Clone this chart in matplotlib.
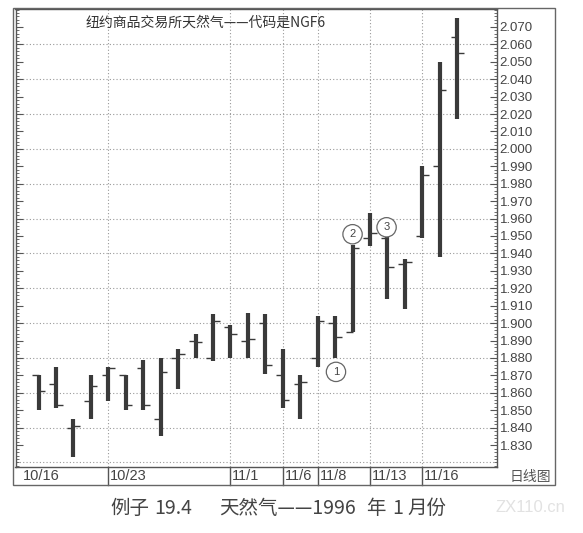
import numpy as np
import matplotlib
matplotlib.use("Agg")
import matplotlib.pyplot as plt
import matplotlib.transforms as mtransforms
from matplotlib.patches import Rectangle
from matplotlib.ticker import MultipleLocator, FixedLocator, FormatStrFormatter

plt.rcParams['font.family'] = ['Noto Sans CJK SC', 'DejaVu Sans']

# daily bars, one per trading day (index 0..24)
opens = [1.870, 1.865, 1.840, 1.855, 1.870, 1.870, 1.874, 1.845, 1.880, 1.890,
         1.880, 1.898, 1.890, 1.900, 1.870, 1.865, 1.880, 1.900, 1.895, 1.949,
         1.949, 1.934, 1.950, 1.990, 2.064]
highs = [1.870, 1.875, 1.845, 1.870, 1.875, 1.870, 1.879, 1.880, 1.885, 1.894,
         1.905, 1.899, 1.906, 1.905, 1.885, 1.870, 1.904, 1.904, 1.945, 1.963,
         1.950, 1.937, 1.990, 2.050, 2.075]
lows = [1.850, 1.851, 1.823, 1.845, 1.855, 1.850, 1.850, 1.835, 1.862, 1.880,
        1.878, 1.880, 1.880, 1.871, 1.851, 1.845, 1.875, 1.880, 1.895, 1.944,
        1.914, 1.908, 1.949, 1.938, 2.017]
closes = [1.861, 1.853, 1.841, 1.864, 1.874, 1.853, 1.853, 1.872, 1.882, 1.889,
          1.901, 1.894, 1.891, 1.876, 1.856, 1.866, 1.901, 1.892, 1.943, 1.952,
          1.932, 1.935, 1.985, 2.034, 2.055]

date_labels = ["10/16", "10/23", "11/1", "11/6", "11/8", "11/13", "11/16"]
date_pos = [-1, 4, 11, 14, 16, 19, 22]

# price labels shown on the right axis
price_ticks = [1.830, 1.840, 1.850, 1.860, 1.870, 1.880, 1.890, 1.900, 1.910,
               1.920, 1.930, 1.940, 1.950, 1.960, 1.970, 1.980, 1.990, 2.000,
               2.010, 2.020, 2.030, 2.040, 2.050, 2.060, 2.070]

# circled points: (bar index, price, label)
marks_x = [17.05, 18.0, 19.95]
marks_y = [1.872, 1.951, 1.955]
marks_txt = ["1", "2", "3"]

# caption pieces and their left edge (px)
caption = ["例子", "19.4", "天然气——1996", "年", "1", "月份"]
caption_x = [110, 154, 219, 366, 392, 407]

W, H = 583, 533
fig = plt.figure(figsize=(W / 100, H / 100), dpi=100)

# main chart area
ax = fig.add_axes([15.5 / W, 66 / H, 481.5 / W, 458 / H])
x = np.arange(len(opens))
bar_col = '#3a3a3a'
ax.vlines(x, lows, highs, color=bar_col, lw=3.0, zorder=3)
ax.hlines(opens, x - 0.38, x, color=bar_col, lw=1.0, zorder=3)
ax.hlines(closes, x, x + 0.38, color=bar_col, lw=1.0, zorder=3)

ax.set_xlim(-1.32, 26.28)
ax.set_ylim(1.8174, 2.0803)

grid_kw = dict(color='#999999', lw=0.8, ls=(0, (1, 2)), zorder=1)
for g in np.arange(1.82, 2.061, 0.02):
    ax.axhline(g, **grid_kw)
for p in date_pos[1:]:
    ax.axvline(p, **grid_kw)

ax.yaxis.set_major_locator(FixedLocator(price_ticks))
ax.yaxis.set_minor_locator(MultipleLocator(0.002))
ax.yaxis.set_major_formatter(FormatStrFormatter('%.3f'))
ax.set_xticks([])
ax.tick_params(axis='y', which='both', direction='in', left=True, right=True,
               labelleft=False, labelright=True, color='#555')
ax.tick_params(axis='y', which='major', length=5, width=0.8, pad=2,
               labelsize=9.5, labelcolor='#444')
ax.tick_params(axis='y', which='minor', length=2.5, width=0.6)
for lab in ax.get_yticklabels():
    lab.set_family(['Liberation Sans', 'DejaVu Sans'])
for s in ax.spines.values():
    s.set_color('#555')
    s.set_linewidth(1.0)

ax.text(0.145, 0.985, "纽约商品交易所天然气——代码是NGF6", transform=ax.transAxes,
        ha='left', va='top', fontsize=10, color='#333')

for mx, my, mt in zip(marks_x, marks_y, marks_txt):
    ax.text(mx, my, mt, ha='center', va='center', fontsize=8, color='#444',
            family=['Liberation Sans', 'DejaVu Sans'], zorder=5,
            bbox=dict(boxstyle='circle,pad=0.42', fc='white', ec='#666', lw=0.9))

# date band under the chart
band = mtransforms.blended_transform_factory(ax.transData, fig.transFigure)
y_top = (H - 467) / H
y_bot = (H - 485) / H
for p in date_pos[1:]:
    ax.plot([p, p], [y_top, y_bot], color='#555', lw=1.0, transform=band, clip_on=False)
for p, lab in zip(date_pos, date_labels):
    ax.text(p + 0.1, (H - 476.5) / H, lab, transform=band, ha='left', va='center',
            fontsize=10.5, color='#444', family=['Liberation Sans', 'DejaVu Sans'])

fig.text(551 / W, (H - 477) / H, "日线图", ha='right', va='center', fontsize=10, color='#555')

# outer frame
fig.patches.append(Rectangle((13 / W, (H - 485) / H), 542 / W, 477 / H, fill=False,
                             ec='#666', lw=1.0, transform=fig.transFigure, figure=fig))

for txt, cx in zip(caption, caption_x):
    fig.text(cx / W, (H - 508) / H, txt, ha='left', va='center', fontsize=14, color='#444')
fig.text(530 / W, (H - 507) / H, "ZX110.cn", ha='center', va='center', fontsize=12,
         color='#e2e2e2', family=['Liberation Sans', 'DejaVu Sans'])

fig.savefig("out.png", dpi=100)
